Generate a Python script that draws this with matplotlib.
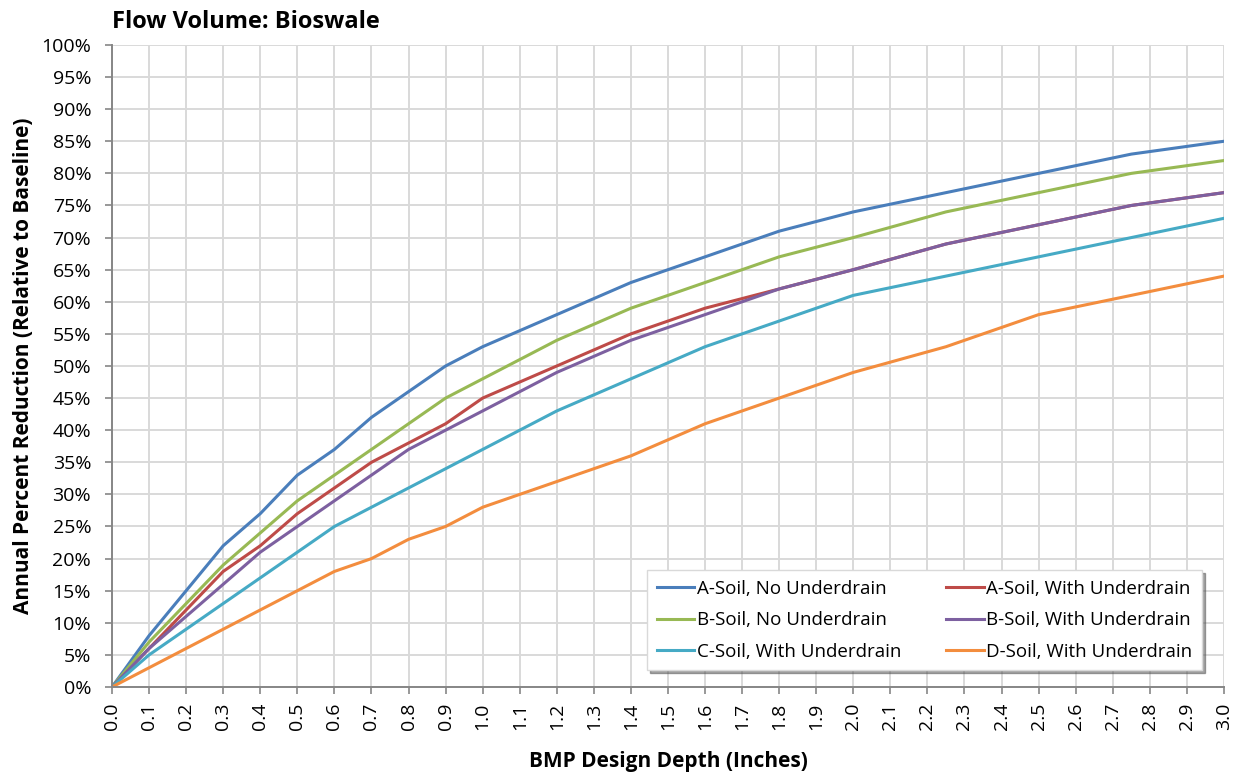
import matplotlib.pyplot as plt
from matplotlib.ticker import MultipleLocator, FuncFormatter

plt.rcParams['font.family'] = ['Open Sans', 'DejaVu Sans']

depth = [0.0, 0.1, 0.2, 0.3, 0.4, 0.5, 0.6, 0.7, 0.8, 0.9, 1.0,
         1.2, 1.4, 1.6, 1.8, 2.0, 2.25, 2.5, 2.75, 3.0]

a_no_ud = [0, 8, 15, 22, 27, 33, 37, 42, 46, 50, 53, 58, 63, 67, 71, 74, 77, 80, 83, 85]
a_ud = [0, 6, 12, 18, 22, 27, 31, 35, 38, 41, 45, 50, 55, 59, 62, 65, 69, 72, 75, 77]
b_no_ud = [0, 7, 13, 19, 24, 29, 33, 37, 41, 45, 48, 54, 59, 63, 67, 70, 74, 77, 80, 82]
b_ud = [0, 6, 11, 16, 21, 25, 29, 33, 37, 40, 43, 49, 54, 58, 62, 65, 69, 72, 75, 77]
c_ud = [0, 5, 9, 13, 17, 21, 25, 28, 31, 34, 37, 43, 48, 53, 57, 61, 64, 67, 70, 73]
d_ud = [0, 3, 6, 9, 12, 15, 18, 20, 23, 25, 28, 32, 36, 41, 45, 49, 53, 58, 61, 64]

series = [
    ("A-Soil, No Underdrain", a_no_ud, "#4A7EBB"),
    ("A-Soil, With Underdrain", a_ud, "#BE4B48"),
    ("B-Soil, No Underdrain", b_no_ud, "#98B954"),
    ("B-Soil, With Underdrain", b_ud, "#7D60A0"),
    ("C-Soil, With Underdrain", c_ud, "#46AAC5"),
    ("D-Soil, With Underdrain", d_ud, "#F38D3E"),
]

fig = plt.figure(figsize=(12.46, 7.74), dpi=100)
ax = fig.add_axes([0.0899, 0.1124, 0.8924, 0.8295])

for name, vals, col in series:
    ax.plot(depth, vals, color=col, lw=2.2, label=name, solid_joinstyle='round')

ax.set_xlim(0, 3.0)
ax.set_ylim(0, 100)
ax.xaxis.set_major_locator(MultipleLocator(0.1))
ax.yaxis.set_major_locator(MultipleLocator(5))
ax.xaxis.set_major_formatter(FuncFormatter(lambda v, p: "%.1f" % v))
ax.yaxis.set_major_formatter(FuncFormatter(lambda v, p: "%d%%" % round(v)))
ax.grid(True, color="#D9D9D9", lw=1.4)
ax.set_axisbelow(True)

for s in ["top", "right"]:
    ax.spines[s].set_visible(False)
for s in ["left", "bottom"]:
    ax.spines[s].set_color("#868686")
    ax.spines[s].set_linewidth(1.4)
ax.tick_params(axis="both", direction="out", length=5, width=1.2, color="#868686",
               labelsize=14)
ax.tick_params(axis="y", pad=10)
ax.tick_params(axis="x", labelrotation=90, pad=6)

ax.set_xlabel("BMP Design Depth (Inches)", fontsize=15, fontweight="bold", labelpad=15)
ax.set_ylabel("Annual Percent Reduction (Relative to Baseline)", fontsize=15,
              fontweight="bold", labelpad=5)
fig.text(0.0899, 0.972, "Flow Volume: Bioswale", fontsize=17, fontweight="bold",
         ha="left", va="center")

# legend fills row by row like the original
handles, labels = ax.get_legend_handles_labels()
order = [0, 2, 4, 1, 3, 5]
leg = ax.legend([handles[i] for i in order], [labels[i] for i in order], ncol=2,
                loc="lower right", bbox_to_anchor=(1202 / 1246, 1 - 670 / 774),
                bbox_transform=fig.transFigure, borderaxespad=0,
                fontsize=13.5, frameon=True, fancybox=False, shadow=True,
                handlelength=2.0, handletextpad=0.15, columnspacing=2.4,
                labelspacing=0.72, borderpad=0.5)
leg.get_frame().set_edgecolor("#D9D9D9")
leg.get_frame().set_linewidth(1.0)

fig.savefig("out.png", dpi=100)
